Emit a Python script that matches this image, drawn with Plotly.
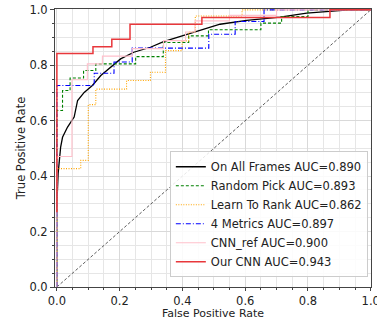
import plotly.graph_objects as go

# ROC curves (FPR, TPR)
fpr_all = [0, 0.0, 0.004, 0.008, 0.012, 0.018, 0.034, 0.055, 0.066, 0.087, 0.113, 0.140, 0.171,
           0.203, 0.245, 0.298, 0.340, 0.415, 0.446, 0.520, 0.605, 0.711, 0.796, 0.870, 0.930, 1.0]
tpr_all = [0, 0.30, 0.41, 0.47, 0.505, 0.54, 0.577, 0.613, 0.673, 0.702, 0.727, 0.763, 0.793,
           0.823, 0.847, 0.865, 0.885, 0.912, 0.922, 0.948, 0.962, 0.974, 0.988, 0.996, 1.0, 1.0]

fpr_rp = [0, 0, 0.018, 0.018, 0.042, 0.042, 0.085, 0.085, 0.124, 0.124, 0.251, 0.251, 0.339, 0.339,
          0.42, 0.42, 0.483, 0.483, 0.650, 0.650, 0.716, 0.716, 0.80, 0.80, 1.0]
tpr_rp = [0, 0.637, 0.637, 0.709, 0.709, 0.754, 0.754, 0.781, 0.781, 0.805, 0.805, 0.831, 0.831, 0.882,
          0.882, 0.906, 0.906, 0.928, 0.928, 0.952, 0.952, 0.976, 0.976, 1.0, 1.0]

fpr_ltr = [0, 0, 0.076, 0.076, 0.100, 0.100, 0.124, 0.124, 0.222, 0.222, 0.298, 0.298, 0.346, 0.346,
           0.399, 0.399, 0.420, 0.420, 0.441, 0.441, 0.590, 0.590, 1.0]
tpr_ltr = [0, 0.427, 0.427, 0.457, 0.457, 0.658, 0.658, 0.714, 0.714, 0.745, 0.745, 0.775, 0.775, 0.853,
           0.853, 0.888, 0.888, 0.920, 0.920, 0.978, 0.978, 1.0, 1.0]

fpr_4m = [0, 0, 0.119, 0.119, 0.182, 0.182, 0.240, 0.240, 0.484, 0.484, 0.568, 0.568, 0.660, 0.660, 1.0]
tpr_4m = [0, 0.727, 0.727, 0.771, 0.771, 0.812, 0.812, 0.862, 0.862, 0.912, 0.912, 0.958, 0.958, 1.0, 1.0]

fpr_ref = [0, 0, 0.048, 0.048, 0.097, 0.097, 0.145, 0.145, 0.240, 0.240, 0.340, 0.340, 0.410, 0.410,
           0.440, 0.440, 0.550, 0.550, 0.700, 0.700, 1.0]
tpr_ref = [0, 0.471, 0.471, 0.748, 0.748, 0.805, 0.805, 0.833, 0.833, 0.860, 0.860, 0.889, 0.889, 0.920,
           0.920, 0.960, 0.960, 0.980, 0.980, 1.0, 1.0]

fpr_cnn = [0, 0, 0.115, 0.115, 0.175, 0.175, 0.233, 0.233, 0.462, 0.462, 0.870, 0.870, 1.0]
tpr_cnn = [0.27, 0.842, 0.842, 0.867, 0.867, 0.894, 0.894, 0.948, 0.948, 0.972, 0.972, 1.0, 1.0]

diag = [0, 1]

names = ["On All Frames AUC=0.890", "Random Pick AUC=0.893", "Learn To Rank AUC=0.862",
         "4 Metrics AUC=0.897", "CNN_ref AUC=0.900", "Our CNN AUC=0.943"]

font = "DejaVu Sans, Verdana, sans-serif"

fig = go.Figure()
fig.add_trace(go.Scatter(x=diag, y=diag, mode="lines", showlegend=False,
                         line=dict(color="#333333", width=0.8, dash="3px,2px")))

series = [
    (fpr_all, tpr_all, "black", "solid", 1.3),
    (fpr_rp, tpr_rp, "#008000", "3px,2px", 1.1),
    (fpr_ltr, tpr_ltr, "#FFA500", "1px,1.5px", 1.1),
    (fpr_4m, tpr_4m, "#0000FF", "5px,2px,1px,2px", 1.1),
    (fpr_ref, tpr_ref, "#FFC0CB", "solid", 1.1),
    (fpr_cnn, tpr_cnn, "#E8373B", "solid", 1.5),
]
for (x, y, c, d, w), n in zip(series, names):
    fig.add_trace(go.Scatter(x=x, y=y, mode="lines", name=n,
                             line=dict(color=c, dash=d, width=w)))

axis_common = dict(
    automargin=False, ticklabeloverflow="allow",
    showline=True, mirror=True, linecolor="#444444", linewidth=1,
    tickcolor="#444444", tickwidth=1,
    showgrid=True, gridcolor="#d9d9d9", gridwidth=1,
    zeroline=False, tick0=0, dtick=0.2, tickformat=".1f",
    tickfont=dict(family=font, size=11.5, color="#222222"),
    minor=dict(dtick=0.05, showgrid=True, gridcolor="#e6e6e6", ticks="outside",
               ticklen=2, tickcolor="#444444"),
)

fig.update_xaxes(range=[-0.006, 1.0008], ticks="outside", ticklen=3,
                 title=dict(text="False Positive Rate", standoff=3,
                            font=dict(family=font, size=11, color="#222222")), **axis_common)
fig.update_yaxes(range=[0, 1.003], ticks="outside", ticklen=4,
                 title=dict(text="True Positive Rate", standoff=1,
                            font=dict(family=font, size=11.5, color="#222222")), **axis_common)

fig.update_layout(
    width=377, height=320,
    margin=dict(l=55, r=6, t=9, b=33),
    plot_bgcolor="white", paper_bgcolor="white",
    font=dict(family=font, size=11.5, color="#222222"),
    legend=dict(x=0.99, y=0.035, xanchor="right", yanchor="bottom",
                bgcolor="rgba(255,255,255,0.85)", bordercolor="#cccccc", borderwidth=1,
                font=dict(family=font, size=11.5, color="#222222"),
                itemwidth=30, tracegroupgap=0),
)

fig.write_html("out.html", config={"displayModeBar": False},
               post_script="document.body.style.margin='0';document.body.style.padding='0';")
